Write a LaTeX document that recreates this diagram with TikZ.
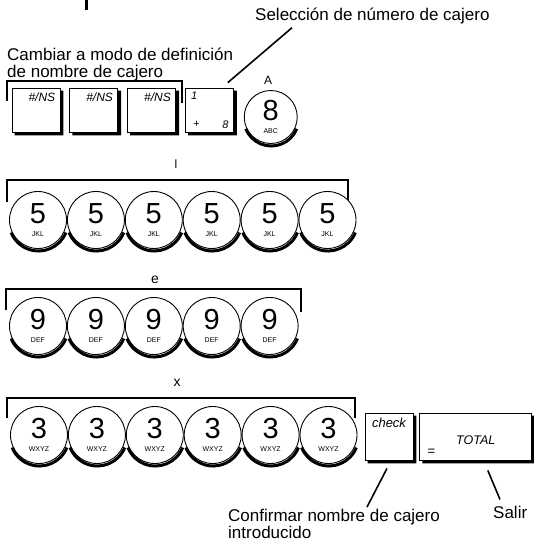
\documentclass[tikz,border=0pt]{standalone}
\usepackage{fontspec}
\setmainfont{Liberation Sans}
\usetikzlibrary{positioning}
\tikzset{
  roundkey/.style={circle, draw, line width=0.9pt, fill=white, minimum size=57pt, inner sep=0pt, align=center,
    font=\fontsize{7}{12.5}\selectfont},
  sqkey/.style={draw, line width=0.8pt, fill=white, minimum width=48pt, minimum height=44pt, inner sep=0pt},
  keytxt/.style={font=\fontsize{11}{11}\selectfont\itshape, inner sep=0pt},
  nskey/.style={sqkey, label={[keytxt, font=\fontsize{12}{12}\selectfont\itshape, anchor=north east, xshift=-5pt, yshift=-5pt]north east:\#/NS}},
  keyshade/.style={fill=black},
  rimshade/.style={line width=3pt},
  bracket/.style={line width=2pt},
  callout/.style={line width=1.6pt},
  note/.style={font=\fontsize{17}{17}\selectfont, inner sep=0pt, align=left},
  rowlbl/.style={font=\fontsize{14}{14}\selectfont, inner sep=0pt}
}
\newcommand{\digitkey}[2]{{\fontsize{29}{12}\selectfont #1}\\{#2}}

\begin{document}
\begin{tikzpicture}[x=1pt, y=-1pt]
  \useasboundingbox (0,0) rectangle (534,541);
  \fill (85,0) rectangle (88,10);

  % texts
  \node[note, anchor=base west] (sel) at (255,20) {Selección de número de cajero};
  \node[note, anchor=north west] (cmb) at (7,48) {Cambiar a modo de definición\\de nombre de cajero};

  % row 1
  \node[nskey] (ns1) at (36,110) {};
  \node[nskey, right=9pt of ns1] (ns2) {};
  \node[nskey, right=9pt of ns2] (ns3) {};
  \node[sqkey, right=9pt of ns3,
    label={[keytxt, anchor=north west, xshift=6pt, yshift=-4pt]north west:1},
    label={[keytxt, anchor=south west, xshift=8pt, yshift=5pt]south west:+},
    label={[keytxt, anchor=south east, xshift=-5pt, yshift=4pt]south east:8}] (k4) {};
  \node[roundkey, minimum size=53pt, right=10pt of k4, yshift=-7pt] (k8) {\digitkey{8}{ABC}};
  \node[rowlbl, font=\fontsize{12}{12}\selectfont] (la) at (268,80) {A};
  \draw[bracket] (7,101) |- (182,81) -- (182,103);
  \draw[callout] ([xshift=-6pt,yshift=5pt]k4.north east) -- ([xshift=37pt,yshift=-4pt]sel.south west);

  % row 2
  \node[rowlbl, font=\fontsize{12}{12}\selectfont] (ll) at (176,164) {l};
  \draw[bracket] (7,202) |- (348,180) -- (348,202);
  \node[roundkey] (j1) at (38,220) {\digitkey{5}{JKL}};
  \node[roundkey, right=0pt of j1] (j2) {\digitkey{5}{JKL}};
  \node[roundkey, right=0pt of j2] (j3) {\digitkey{5}{JKL}};
  \node[roundkey, right=0pt of j3] (j4) {\digitkey{5}{JKL}};
  \node[roundkey, right=0pt of j4] (j5) {\digitkey{5}{JKL}};
  \node[roundkey, right=0pt of j5] (j6) {\digitkey{5}{JKL}};

  % row 3
  \node[rowlbl] (le) at (155,280) {e};
  \draw[bracket] (6,310) |- (301,289) -- (301,312);
  \node[roundkey] (d1) at (38,326) {\digitkey{9}{DEF}};
  \node[roundkey, right=0pt of d1] (d2) {\digitkey{9}{DEF}};
  \node[roundkey, right=0pt of d2] (d3) {\digitkey{9}{DEF}};
  \node[roundkey, right=0pt of d3] (d4) {\digitkey{9}{DEF}};
  \node[roundkey, right=0pt of d4] (d5) {\digitkey{9}{DEF}};

  % row 4
  \node[rowlbl] (lx) at (177,383) {x};
  \draw[bracket] (7,418) |- (355,398) -- (355,418);
  \node[roundkey] (w1) at (39,435) {\digitkey{3}{WXYZ}};
  \node[roundkey, right=0pt of w1] (w2) {\digitkey{3}{WXYZ}};
  \node[roundkey, right=0pt of w2] (w3) {\digitkey{3}{WXYZ}};
  \node[roundkey, right=0pt of w3] (w4) {\digitkey{3}{WXYZ}};
  \node[roundkey, right=0pt of w4] (w5) {\digitkey{3}{WXYZ}};
  \node[roundkey, right=0pt of w5] (w6) {\digitkey{3}{WXYZ}};
  \node[sqkey, minimum height=47pt, label={[keytxt, font=\fontsize{13}{13}\selectfont\itshape, anchor=north, yshift=-5pt]north:check}] (chk) at (389,436.5) {};
  \node[sqkey, minimum width=112pt, minimum height=47pt, right=6pt of chk,
    label={[keytxt, font=\fontsize{12.5}{12.5}\selectfont\itshape, anchor=center, yshift=-4pt]center:TOTAL},
    label={[keytxt, font=\fontsize{13}{13}\selectfont, anchor=south west, xshift=8pt, yshift=5pt]south west:=}] (tot) {};

  % key shadows, drawn just outside each key
  \foreach \k in {ns1,ns2,ns3,k4,chk,tot}
    \fill[keyshade] ([yshift=-3pt]\k.north east) rectangle ([xshift=3pt,yshift=-3pt]\k.south east)
                    ([xshift=3pt]\k.south west) rectangle ([xshift=3pt,yshift=-3pt]\k.south east);
  \foreach \k in {j1,j2,j3,j4,j5,j6,d1,d2,d3,d4,d5,w1,w2,w3,w4,w5,w6}
    \draw[rimshade] ([shift={(0.5,1.5)}]\k.center) ++(22:29.5) arc (22:158:29.5);
  \draw[rimshade] ([shift={(0.5,1.5)}]k8.center) ++(22:27.5) arc (22:158:27.5);

  % bottom texts
  \node[note, font=\fontsize{17}{15}\selectfont, anchor=north west] (conf) at (228,509) {Confirmar nombre de cajero\\introducido};
  \node[note, anchor=base west] (salir) at (493,518) {Salir};
  \draw[callout] ([xshift=-2pt,yshift=-8pt]chk.south) -- ([xshift=139pt,yshift=2pt]conf.north west);
  \draw[callout] ([xshift=12pt,yshift=-10pt]tot.south) -- ([xshift=7pt,yshift=6pt]salir.north west);
\end{tikzpicture}
\end{document}
